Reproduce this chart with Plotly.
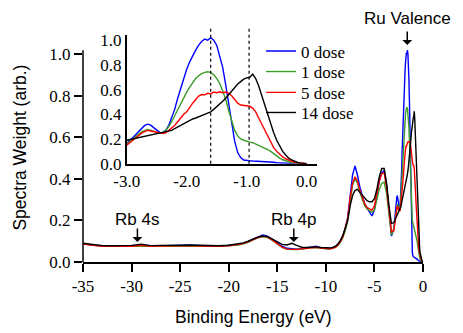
import plotly.graph_objects as go

# wide scan, -35 eV up to the valence band
energy_wide = [-35, -34, -33, -32, -31, -30, -29, -28, -27, -26, -25, -24, -23, -22, -21, -20, -19,
               -18.5, -18, -17.5, -17, -16.5, -16, -15.5, -15, -14.5, -14, -13.5, -13, -12.5, -12, -11.5,
               -11, -10.5, -10,
               -9.75, -9.5, -9.25, -9, -8.75, -8.5, -8.25, -8, -7.75, -7.5, -7.25, -7, -6.75, -6.5, -6.25,
               -6, -5.75, -5.5, -5.25, -5, -4.75, -4.5, -4.25, -4, -3.75, -3.5, -3.25]

wide_0 = [0.089, 0.081, 0.078, 0.076, 0.077, 0.078, 0.080, 0.077, 0.079, 0.078, 0.080, 0.081, 0.078, 0.077,
          0.076, 0.079, 0.084,
          0.090, 0.098, 0.110, 0.122, 0.130, 0.125, 0.110, 0.092, 0.076, 0.066, 0.063, 0.062, 0.064, 0.067,
          0.070, 0.076, 0.068, 0.065,
          0.064, 0.066, 0.069, 0.074, 0.085, 0.100, 0.125, 0.160, 0.215, 0.330, 0.420, 0.462, 0.420, 0.360,
          0.315, 0.280, 0.258, 0.240, 0.222, 0.250, 0.320, 0.390, 0.430, 0.440, 0.370, 0.260, 0.125]
wide_1 = [0.086, 0.080, 0.077, 0.076, 0.076, 0.077, 0.079, 0.076, 0.077, 0.077, 0.078, 0.079, 0.077, 0.076,
          0.075, 0.077, 0.082,
          0.088, 0.095, 0.106, 0.116, 0.122, 0.118, 0.104, 0.086, 0.070, 0.061, 0.059, 0.060, 0.062, 0.066,
          0.068, 0.070, 0.066, 0.063,
          0.062, 0.063, 0.066, 0.071, 0.080, 0.095, 0.118, 0.150, 0.200, 0.300, 0.370, 0.400, 0.380, 0.335,
          0.300, 0.270, 0.255, 0.248, 0.240, 0.250, 0.300, 0.350, 0.378, 0.385, 0.330, 0.240, 0.130]
wide_5 = [0.087, 0.080, 0.076, 0.075, 0.076, 0.076, 0.081, 0.076, 0.077, 0.078, 0.078, 0.079, 0.077, 0.076,
          0.076, 0.078, 0.083,
          0.089, 0.097, 0.108, 0.118, 0.124, 0.120, 0.105, 0.087, 0.071, 0.062, 0.060, 0.061, 0.063, 0.066,
          0.068, 0.071, 0.067, 0.064,
          0.063, 0.064, 0.067, 0.072, 0.083, 0.098, 0.122, 0.160, 0.210, 0.310, 0.380, 0.410, 0.390, 0.345,
          0.310, 0.280, 0.262, 0.255, 0.250, 0.270, 0.330, 0.390, 0.425, 0.430, 0.360, 0.250, 0.145]
wide_14 = [0.090, 0.083, 0.079, 0.078, 0.078, 0.080, 0.086, 0.079, 0.080, 0.079, 0.081, 0.082, 0.080, 0.079,
           0.078, 0.081, 0.086,
           0.092, 0.100, 0.110, 0.120, 0.125, 0.122, 0.110, 0.096, 0.085, 0.082, 0.090, 0.080, 0.071, 0.070,
           0.071, 0.073, 0.070, 0.068,
           0.067, 0.068, 0.071, 0.076, 0.088, 0.104, 0.128, 0.160, 0.200, 0.270, 0.320, 0.345, 0.350, 0.335,
           0.320, 0.310, 0.295, 0.290, 0.290, 0.305, 0.350, 0.410, 0.450, 0.450, 0.380, 0.270, 0.185]

# valence band close-up (also the tail of the wide scan)
energy_vb = [-3.0, -2.95, -2.9, -2.85, -2.8, -2.75, -2.7, -2.65, -2.6, -2.55,
             -2.5, -2.45, -2.4, -2.35, -2.3, -2.25, -2.2, -2.15, -2.1, -2.05,
             -2.0, -1.95, -1.9, -1.85, -1.8, -1.75, -1.7, -1.65, -1.6, -1.55,
             -1.5, -1.45, -1.4, -1.35, -1.3, -1.25, -1.2, -1.15, -1.1, -1.05,
             -1.0, -0.95, -0.9, -0.85, -0.8, -0.75, -0.7, -0.65, -0.6, -0.55,
             -0.5, -0.45, -0.4, -0.35, -0.3, -0.25, -0.2, -0.15, -0.1, -0.05, 0.0]

vb_0 = [0.160, 0.190, 0.210, 0.235, 0.262, 0.290, 0.310, 0.320, 0.312, 0.292,
        0.272, 0.254, 0.250, 0.268, 0.310, 0.370, 0.440, 0.530, 0.610, 0.690,
        0.765, 0.825, 0.875, 0.920, 0.960, 0.990, 1.010, 1.000, 1.020, 1.000,
        0.960, 0.880, 0.780, 0.640, 0.480, 0.320, 0.180, 0.090, 0.050, 0.030,
        0.025, 0.024, 0.022, 0.021, 0.020, 0.016, 0.015, 0.015, 0.012, 0.012,
        0.008, 0.006, 0.005, 0.004, 0.003, 0.003, 0.002, 0.002, 0.001, 0.001, 0.000]
vb_1 = [0.160, 0.180, 0.200, 0.220, 0.240, 0.258, 0.270, 0.278, 0.272, 0.262,
        0.255, 0.250, 0.252, 0.270, 0.300, 0.340, 0.390, 0.440, 0.490, 0.540,
        0.580, 0.620, 0.660, 0.690, 0.712, 0.730, 0.740, 0.745, 0.740, 0.720,
        0.690, 0.650, 0.590, 0.520, 0.430, 0.340, 0.270, 0.225, 0.200, 0.190,
        0.180, 0.175, 0.170, 0.160, 0.150, 0.140, 0.130, 0.115, 0.100, 0.080,
        0.060, 0.045, 0.032, 0.022, 0.013, 0.008, 0.005, 0.003, 0.002, 0.001, 0.000]
vb_5 = [0.150, 0.170, 0.190, 0.210, 0.230, 0.248, 0.260, 0.270, 0.265, 0.260,
        0.255, 0.250, 0.245, 0.250, 0.270, 0.290, 0.310, 0.340, 0.370, 0.400,
        0.420, 0.460, 0.490, 0.520, 0.548, 0.560, 0.558, 0.570, 0.565, 0.580,
        0.575, 0.582, 0.575, 0.580, 0.570, 0.550, 0.520, 0.490, 0.475, 0.470,
        0.465, 0.465, 0.450, 0.420, 0.370, 0.320, 0.270, 0.220, 0.170, 0.130,
        0.100, 0.075, 0.055, 0.040, 0.028, 0.020, 0.012, 0.008, 0.004, 0.002, 0.000]
vb_14 = [0.190, 0.195, 0.200, 0.210, 0.215, 0.220, 0.225, 0.230, 0.232, 0.238,
         0.245, 0.244, 0.250, 0.255, 0.262, 0.270, 0.285, 0.298, 0.310, 0.325,
         0.340, 0.350, 0.362, 0.370, 0.382, 0.390, 0.400, 0.410, 0.420, 0.440,
         0.460, 0.480, 0.505, 0.530, 0.560, 0.590, 0.620, 0.645, 0.665, 0.685,
         0.695, 0.700, 0.725, 0.690, 0.630, 0.550, 0.470, 0.390, 0.320, 0.250,
         0.190, 0.140, 0.100, 0.070, 0.045, 0.030, 0.018, 0.010, 0.005, 0.002, 0.000]

dose_names = ["0 dose", "1 dose", "5 dose", "14 dose"]
dose_colors = ["#0000ff", "#3c9c28", "#ff0000", "#000000"]

main_ticks = [-35, -30, -25, -20, -15, -10, -5, 0]
main_ticktext = ["-35", "-30", "-25", "-20", "-15", "-10", "-5", "0"]
weight_ticks = [0, 0.2, 0.4, 0.6, 0.8, 1.0]
weight_ticktext = ["0.0", "0.2", "0.4", "0.6", "0.8", "1.0"]
inset_ticks = [-3, -2, -1, 0]
inset_ticktext = ["-3.0", "-2.0", "-1.0", "0.0"]

marker_energies = [-1.6, -0.96]
peak_labels = ["Rb 4s", "Rb 4p", "Ru Valence"]
peak_energies = [-29.4, -13.3, -1.62]

SERIF = "Liberation Serif"
SANS = "Liberation Sans"

wide_sets = [wide_0, wide_1, wide_5, wide_14]
vb_sets = [vb_0, vb_1, vb_5, vb_14]
legend_ids = ["legend", "legend2", "legend3", "legend4"]
legend_tops = [0.977, 0.889, 0.800, 0.714]

fig = go.Figure()
for name, color, wide, vb in zip(dose_names, dose_colors, wide_sets, vb_sets):
    fig.add_trace(go.Scatter(x=energy_wide + energy_vb, y=wide + vb, mode="lines",
                             line=dict(color=color, width=1.4), name=name,
                             showlegend=False, xaxis="x", yaxis="y"))
for name, color, vb, lg in zip(dose_names, dose_colors, vb_sets, legend_ids):
    fig.add_trace(go.Scatter(x=energy_vb, y=vb, mode="lines",
                             line=dict(color=color, width=1.4), name=name,
                             xaxis="x2", yaxis="y2", legend=lg))

# main y axis line stops a bit above 1.0, the inset sticks out above it
fig.add_shape(type="line", xref="paper", yref="y", x0=0, x1=0, y0=0, y1=1.02,
              line=dict(color="black", width=1.5))
for e in marker_energies:
    fig.add_shape(type="line", xref="x2", yref="y2 domain", x0=e, x1=e, y0=0, y1=1.057,
                  line=dict(color="black", width=1.2, dash="dot"))

# peak labels with small down arrows
label_y = [0.207, 0.207, 1.17]
arrow_y = [0.096, 0.096, 1.045]
for text, e, ty, hy in zip(peak_labels, peak_energies, label_y, arrow_y):
    fig.add_annotation(x=e, y=(ty * 207.7) / 234, xref="x", yref="paper", text=text,
                       showarrow=False, xanchor="center", yanchor="middle",
                       font=dict(family=SANS, size=17, color="black"))
    fig.add_annotation(x=e, y=hy, xref="x", yref="y", text="", showarrow=True,
                       ax=0, ay=-15, arrowhead=1, arrowsize=1.1, arrowwidth=1.5,
                       arrowcolor="black")

fig.add_annotation(x=0.5, y=-0.234, xref="paper", yref="paper", text="Binding Energy (eV)",
                   showarrow=False, xanchor="center", yanchor="middle",
                   font=dict(family=SANS, size=17.5, color="black"))
fig.add_annotation(x=-0.1853, y=0.489, xref="paper", yref="paper", text="Spectra Weight (arb.)",
                   textangle=-90, showarrow=False, xanchor="center", yanchor="middle",
                   font=dict(family=SANS, size=17.5, color="black"))

legend_style = dict(x=0.5236, xanchor="left", yanchor="top", bgcolor="rgba(0,0,0,0)",
                    font=dict(family=SERIF, size=17, color="black"), itemwidth=30)

# the page body adds an 8px margin, so the figure is 8px smaller than the window
fig.update_layout(
    template="none",
    width=455, height=325,
    margin=dict(l=75, r=40, t=20, b=71, pad=0),
    paper_bgcolor="white", plot_bgcolor="rgba(0,0,0,0)",
    xaxis=dict(range=[-35, 0], tickvals=main_ticks, ticktext=main_ticktext, automargin=False,
               showline=True, linecolor="black", linewidth=1.5,
               ticks="outside", ticklen=8, tickwidth=1.5, tickcolor="black",
               showgrid=False, zeroline=False,
               tickfont=dict(family=SERIF, size=17, color="black")),
    yaxis=dict(range=[0, 1.1266], tickvals=weight_ticks, ticktext=weight_ticktext, automargin=False,
               showline=False, ticks="outside", ticklen=8, tickwidth=1.5, tickcolor="black",
               showgrid=False, zeroline=False,
               tickfont=dict(family=SERIF, size=17, color="black")),
    xaxis2=dict(domain=[0.1285, 0.6874], anchor="y2", range=[-3, 0.167], automargin=False,
                tickvals=inset_ticks, ticktext=inset_ticktext,
                showline=True, linecolor="black", linewidth=1.5, ticks="",
                ticklabelstandoff=1,
                showgrid=False, zeroline=False,
                tickfont=dict(family=SERIF, size=17, color="black")),
    yaxis2=dict(domain=[0.4201, 0.9688], anchor="x2", range=[0, 1.04], automargin=False,
                tickvals=weight_ticks, ticktext=weight_ticktext,
                showline=True, linecolor="black", linewidth=1.5, ticks="",
                showgrid=False, zeroline=False,
                tickfont=dict(family=SERIF, size=17, color="black")),
    legend=dict(y=legend_tops[0], **legend_style),
    legend2=dict(y=legend_tops[1], **legend_style),
    legend3=dict(y=legend_tops[2], **legend_style),
    legend4=dict(y=legend_tops[3], **legend_style),
    showlegend=True,
)

fig.write_html("out.html")
